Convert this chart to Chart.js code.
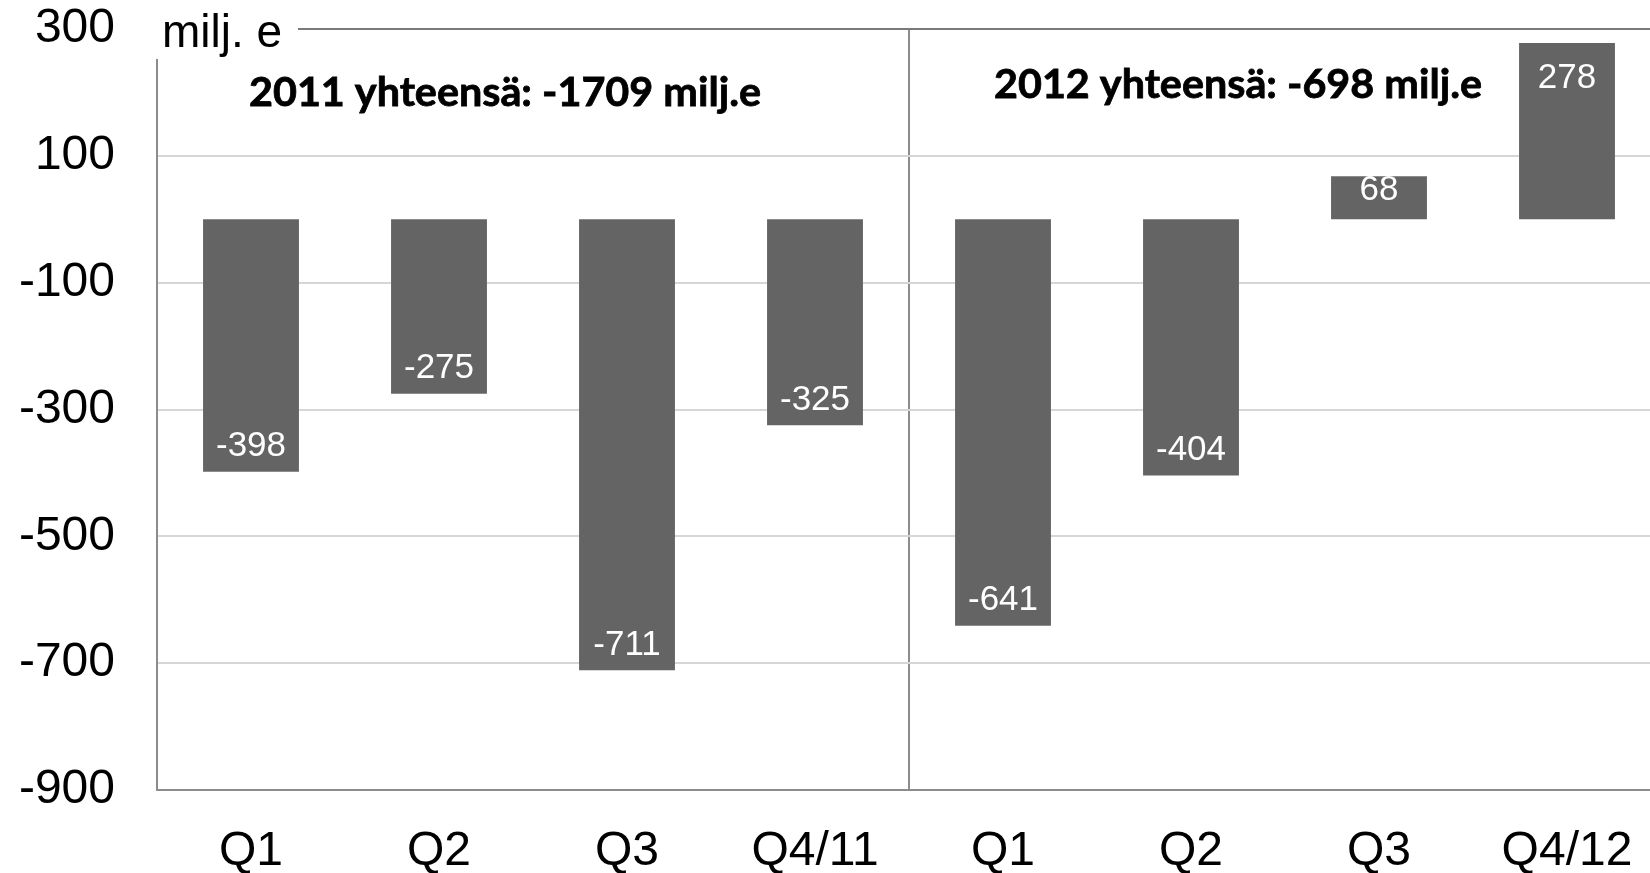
<!DOCTYPE html>
<html>
<head>
<meta charset="utf-8">
<script src="https://cdn.jsdelivr.net/npm/chart.js@4.4.1/dist/chart.umd.min.js"></script>
<style>
  html, body { margin: 0; padding: 0; background: #fff; overflow: hidden; }
  #wrap { width: 1650px; height: 873px; overflow: hidden; }
</style>
</head>
<body>
<div id="wrap"><canvas id="c" width="1662" height="873"></canvas></div>
<script>
const categories = ["Q1", "Q2", "Q3", "Q4/11", "Q1", "Q2", "Q3", "Q4/12"];
const values = [-398, -275, -711, -325, -641, -404, 68, 278];
const yTicks = [-900, -700, -500, -300, -100, 100, 300];
const unitLabel = "milj. e";
const totalLabels = ["2011 yhteensä: -1709 milj.e", "2012 yhteensä: -698 milj.e"];

const AX = "'Liberation Sans', Arial, sans-serif";
const BAR = "#646464";

const labelsPlugin = {
  id: "valueLabels",
  afterDatasetsDraw(chart) {
    const ctx = chart.ctx;
    const meta = chart.getDatasetMeta(0);
    const y0 = chart.scales.y.getPixelForValue(0);
    ctx.save();
    ctx.fillStyle = "#ffffff";
    ctx.font = "35px " + AX;
    ctx.textAlign = "center";
    ctx.textBaseline = "middle";
    meta.data.forEach((bar, i) => {
      const v = values[i];
      const h = Math.abs(bar.y - y0);
      let y;
      if (v < 0) {
        y = bar.y - Math.min(25, h / 2);
      } else {
        y = bar.y + Math.min(35, h / 2 - 7);
      }
      ctx.fillText(String(v), bar.x, y);
    });
    ctx.restore();
  },
  afterDraw(chart) {
    const ctx = chart.ctx;
    ctx.save();
    // white box behind unit label
    ctx.fillStyle = "#ffffff";
    ctx.fillRect(148, 0, 150, 59);
    ctx.fillStyle = "#000";
    ctx.font = "46px " + AX;
    ctx.textAlign = "left";
    ctx.textBaseline = "alphabetic";
    ctx.fillText(unitLabel, 162, 47);

    // totals
    ctx.font = "bold 41px Lato, 'Open Sans', sans-serif";
    ctx.textAlign = "center";
    ctx.textBaseline = "middle";
    const boxes = [[249, 761, 93], [994, 1482, 85]];
    totalLabels.forEach((t, i) => {
      const [l, r, cy] = boxes[i];
      const w = ctx.measureText(t).width;
      const sx = (r - l) / w;
      ctx.save();
      ctx.translate((l + r) / 2, cy);
      ctx.scale(sx, 1);
      ctx.lineWidth = 0.8;
      ctx.strokeStyle = "#000";
      ctx.fillText(t, 0, 0);
      ctx.strokeText(t, 0, 0);
      ctx.restore();
    });
    ctx.restore();
  }
};

new Chart(document.getElementById("c"), {
  type: "bar",
  data: {
    labels: categories,
    datasets: [{
      data: values,
      backgroundColor: BAR,
      borderWidth: 0,
      barPercentage: 0.51,
      categoryPercentage: 1.0
    }]
  },
  options: {
    responsive: false,
    devicePixelRatio: 1,
    animation: false,
    layout: { padding: { top: 29, right: 1, left: 0, bottom: 0 } },
    plugins: { legend: { display: false }, tooltip: { enabled: false }, title: { display: false } },
    scales: {
      x: {
        offset: true,
        grid: {
          offset: true,
          drawTicks: false,
          lineWidth: 2,
          color: (c) => (c.index === 4 ? "#8c8c8c" : "rgba(0,0,0,0)")
        },
        border: { display: true, color: "#8c8c8c", width: 2 },
        ticks: {
          padding: 33,
          color: "#000",
          font: { family: AX, size: 48 },
          maxRotation: 0,
          autoSkip: false
        },
        afterFit(scale) { scale.height = 83; scale.paddingLeft = 0; scale.paddingRight = 0; }
      },
      y: {
        min: -900,
        max: 300,
        afterBuildTicks(scale) { scale.ticks = yTicks.map(v => ({ value: v })); },
        grid: {
          drawTicks: false,
          lineWidth: 2,
          color: (c) => {
            const v = c.tick ? c.tick.value : null;
            if (v === 0 || v === 300) return "#7a7a7a";
            return "#d6d6d6";
          }
        },
        border: { display: true, color: "#8c8c8c", width: 2 },
        ticks: {
          padding: 42,
          color: "#000",
          font: { family: AX, size: 48 },
          includeBounds: true
        },
        afterFit(scale) { scale.width = 157; scale.paddingTop = 0; scale.paddingBottom = 0; }
      }
    }
  },
  plugins: [labelsPlugin]
});
</script>
</body>
</html>
